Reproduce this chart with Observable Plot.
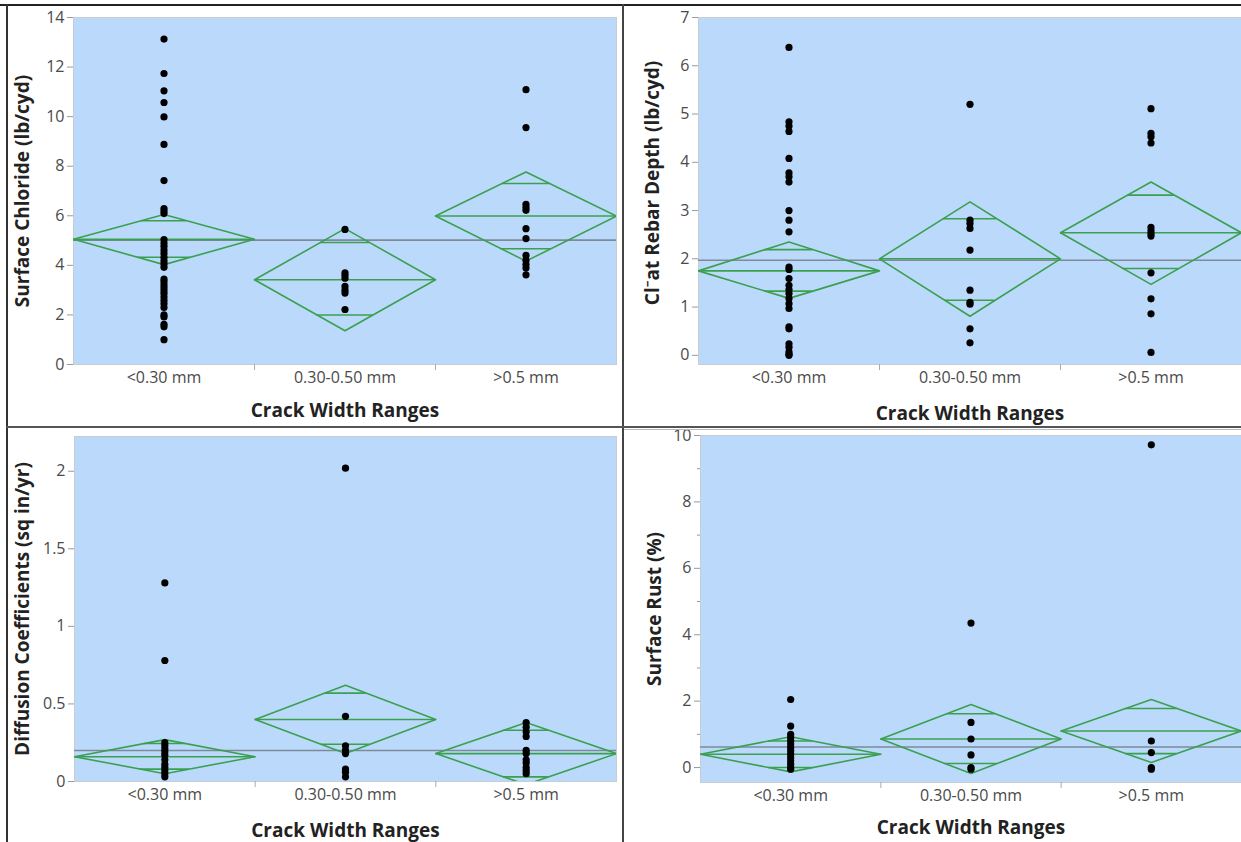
<!DOCTYPE html>
<html>
<head>
<meta charset="utf-8">
<script src="https://cdn.jsdelivr.net/npm/d3@7"></script>
<script src="https://cdn.jsdelivr.net/npm/@observablehq/plot@0.6"></script>
<style>
  html, body { margin: 0; padding: 0; background: #fff; }
  #wrap { position: relative; width: 1241px; height: 842px; overflow: hidden; background: #fff; }
  .panel { position: absolute; }
  .line { position: absolute; }
</style>
</head>
<body>
<div id="wrap"></div>
<script>
// ---------- data ----------
const categories = ["<0.30 mm", "0.30-0.50 mm", ">0.5 mm"];
const xTitle = "Crack Width Ranges";

// Panel 1: Surface Chloride (lb/cyd)
const chlorideLabel = "Surface Chloride (lb/cyd)";
const chlorideLt030 = [13.13, 11.74, 11.04, 10.57, 9.99, 8.88, 7.42, 6.29, 6.19, 6.09, 5.04, 4.9, 4.77, 4.62, 4.48, 4.33, 4.18, 4.05, 3.92, 3.45, 3.35, 3.22, 3.1, 2.98, 2.86, 2.72, 2.58, 2.45, 2.3, 2.0, 1.92, 1.62, 1.52, 1.0];
const chloride030050 = [5.45, 3.7, 3.6, 3.48, 3.15, 3.0, 2.88, 2.22];
const chlorideGt05 = [11.09, 9.56, 6.46, 6.33, 6.22, 5.48, 5.08, 4.4, 4.2, 4.03, 3.89, 3.62];
const chlorideMean = [5.05, 3.42, 5.99];
const chlorideLow = [4.03, 1.36, 4.17];
const chlorideHigh = [6.05, 5.48, 7.77];
const chlorideOverlapLow = [4.33, 2.0, 4.67];
const chlorideOverlapHigh = [5.8, 4.92, 7.3];
const chlorideGrand = 5.02;

// Panel 2: Cl- at Rebar Depth (lb/cyd)
const rebarLabel = "Cl\u207Bat Rebar Depth (lb/cyd)";
const rebarLt030 = [6.38, 4.84, 4.75, 4.64, 4.08, 3.78, 3.7, 3.59, 3.0, 2.8, 2.56, 1.83, 1.78, 1.59, 1.45, 1.36, 1.28, 1.18, 1.07, 0.97, 0.59, 0.55, 0.24, 0.17, 0.07, 0.02, 0.0];
const rebar030050 = [5.2, 2.8, 2.73, 2.63, 2.18, 1.35, 1.1, 1.06, 0.55, 0.26];
const rebarGt05 = [5.11, 4.6, 4.53, 4.4, 2.65, 2.58, 2.52, 2.47, 1.71, 1.17, 0.86, 0.06];
const rebarMean = [1.75, 2.0, 2.54];
const rebarLow = [1.18, 0.81, 1.47];
const rebarHigh = [2.35, 3.18, 3.59];
const rebarOverlapLow = [1.33, 1.14, 1.8];
const rebarOverlapHigh = [2.19, 2.83, 3.32];
const rebarGrand = 1.97;

// Panel 3: Diffusion Coefficients (sq in/yr)
const diffLabel = "Diffusion Coefficients (sq in/yr)";
const diffLt030 = [1.28, 0.78, 0.25, 0.23, 0.21, 0.19, 0.17, 0.14, 0.11, 0.09, 0.07, 0.05, 0.03];
const diff030050 = [2.02, 0.42, 0.23, 0.2, 0.18, 0.08, 0.06, 0.03];
const diffGt05 = [0.38, 0.35, 0.32, 0.29, 0.2, 0.18, 0.14, 0.12, 0.09, 0.07, 0.05];
const diffMean = [0.16, 0.4, 0.18];
const diffLow = [0.05, 0.18, -0.02];
const diffHigh = [0.27, 0.62, 0.38];
const diffOverlapLow = [0.08, 0.24, 0.03];
const diffOverlapHigh = [0.245, 0.57, 0.33];
const diffGrand = 0.2;

// Panel 4: Surface Rust (%)
const rustLabel = "Surface Rust (%)";
const rustLt030 = [2.05, 1.25, 1.0, 0.91, 0.81, 0.71, 0.6, 0.5, 0.4, 0.3, 0.2, 0.1, 0.0, -0.05];
const rust030050 = [4.35, 1.36, 0.86, 0.38, 0.0, -0.05];
const rustGt05 = [9.72, 0.8, 0.45, 0.0, -0.05];
const rustMean = [0.4, 0.86, 1.1];
const rustLow = [-0.13, -0.18, 0.15];
const rustHigh = [0.93, 1.9, 2.05];
const rustOverlapLow = [0.0, 0.12, 0.42];
const rustOverlapHigh = [0.8, 1.62, 1.78];
const rustGrand = 0.62;

// ---------- styling ----------
const BG = "#bbdafb";
const GREEN = "#3aa050";
const FONT = "'Open Sans', 'Noto Sans', sans-serif";
const TICK_FS = 16;
const TITLE_FS = 19;

function panel(cfg) {
  const groups = cfg.values;
  const pts = groups.flatMap((vals, i) => vals.map(v => ({i, v})));
  const stats = categories.map((c, i) => ({
    i, mean: cfg.mean[i], lo: cfg.low[i], hi: cfg.high[i],
    olo: cfg.overlapLow[i], ohi: cfg.overlapHigh[i]
  }));
  const diamond = stats.flatMap(s => [
    {i: s.i, x: s.i - 0.5, y: s.mean},
    {i: s.i, x: s.i, y: s.hi},
    {i: s.i, x: s.i + 0.5, y: s.mean},
    {i: s.i, x: s.i, y: s.lo},
    {i: s.i, x: s.i - 0.5, y: s.mean}
  ]);
  const overlaps = stats.flatMap(s => [
    {i: s.i, y: s.ohi, hw: 0.5 * (1 - (s.ohi - s.mean) / (s.hi - s.mean))},
    {i: s.i, y: s.olo, hw: 0.5 * (1 - (s.mean - s.olo) / (s.mean - s.lo))}
  ]);
  const m = cfg.margin;
  const marks = [
    Plot.frame({fill: BG, stroke: "#c9ccd0"}),
    Plot.ruleY([cfg.grand], {stroke: "#7d8a9a", strokeWidth: 1.6}),
    Plot.line(diamond, {x: "x", y: "y", z: "i", stroke: GREEN, strokeWidth: 1.6, clip: true}),
    Plot.ruleY(stats, {y: "mean", x1: d => d.i - 0.5, x2: d => d.i + 0.5, stroke: GREEN, strokeWidth: 1.6, clip: true}),
    Plot.ruleY(overlaps, {y: "y", x1: d => d.i - d.hw, x2: d => d.i + d.hw, stroke: GREEN, strokeWidth: 1.6, clip: true}),
    Plot.dot(pts, {x: "i", y: "v", r: 3.6, fill: "#000", stroke: null}),
    Plot.axisY(cfg.yTicks, {tickSize: 6, tickPadding: 3, fontSize: TICK_FS, fill: "#4a4a4a", stroke: "#999", tickFormat: d => String(d), label: null}),
    Plot.axisX([0, 1, 2], {tickSize: 0, tickPadding: 7, fontSize: TICK_FS, fill: "#4a4a4a", tickFormat: i => categories[i], label: null}),
    Plot.axisX([0.5, 1.5], {tickSize: 6, stroke: "#aaa", tickFormat: () => "", label: null}),
    Plot.text([cfg.yLabel], {text: d => d, frameAnchor: "left", textAnchor: "middle", lineAnchor: "middle", dx: -cfg.yLabelDx, dy: cfg.yLabelDy || 0, rotate: -90, fontSize: TITLE_FS, fontWeight: "bold", fill: "#222"}),
    Plot.text([xTitle], {text: d => d, frameAnchor: "bottom", textAnchor: "middle", lineAnchor: "middle", dy: cfg.xLabelDy, fontSize: TITLE_FS, fontWeight: "bold", fill: "#222"})
  ];
  if (cfg.minor) marks.push(Plot.axisY(cfg.minor, {tickSize: 3, stroke: "#999", tickFormat: () => "", label: null}));
  const svg = Plot.plot({
    width: cfg.width, height: cfg.height,
    marginLeft: m[3], marginRight: m[1], marginTop: m[0], marginBottom: m[2],
    style: {fontFamily: FONT, background: "transparent", overflow: "visible"},
    x: {type: "linear", domain: [-0.5, 2.5], axis: null},
    y: {domain: cfg.yDomain, axis: null},
    marks
  });
  svg.classList.add("panel");
  svg.style.left = cfg.left + "px";
  svg.style.top = cfg.top + "px";
  return svg;
}

const wrap = document.getElementById("wrap");

wrap.appendChild(panel({
  left: 0, top: 0, width: 622, height: 427, margin: [17, 6, 63, 73],
  values: [chlorideLt030, chloride030050, chlorideGt05],
  mean: chlorideMean, low: chlorideLow, high: chlorideHigh,
  overlapLow: chlorideOverlapLow, overlapHigh: chlorideOverlapHigh, grand: chlorideGrand,
  yDomain: [0, 14], yTicks: [0, 2, 4, 6, 8, 10, 12, 14],
  yLabel: chlorideLabel, yLabelDx: 51, xLabelDy: 46
}));
wrap.appendChild(panel({
  left: 625, top: 0, width: 616, height: 427, margin: [17, 0, 63, 73],
  values: [rebarLt030, rebar030050, rebarGt05],
  mean: rebarMean, low: rebarLow, high: rebarHigh,
  overlapLow: rebarOverlapLow, overlapHigh: rebarOverlapHigh, grand: rebarGrand,
  yDomain: [-0.19, 7.0], yTicks: [0, 1, 2, 3, 4, 5, 6, 7],
  yLabel: rebarLabel, yLabelDx: 46, yLabelDy: -8, xLabelDy: 49
}));
wrap.appendChild(panel({
  left: 0, top: 431, width: 622, height: 411, margin: [5, 6, 61, 74],
  values: [diffLt030, diff030050, diffGt05],
  mean: diffMean, low: diffLow, high: diffHigh,
  overlapLow: diffOverlapLow, overlapHigh: diffOverlapHigh, grand: diffGrand,
  yDomain: [0, 2.224], yTicks: [0, 0.5, 1, 1.5, 2],
  yLabel: diffLabel, yLabelDx: 52, xLabelDy: 49
}));
wrap.appendChild(panel({
  left: 625, top: 431, width: 616, height: 411, margin: [4, 0, 60, 75],
  values: [rustLt030, rust030050, rustGt05],
  mean: rustMean, low: rustLow, high: rustHigh,
  overlapLow: rustOverlapLow, overlapHigh: rustOverlapHigh, grand: rustGrand,
  yDomain: [-0.45, 10.0], yTicks: [0, 2, 4, 6, 8, 10], minor: [1, 3, 5, 7, 9],
  yLabel: rustLabel, yLabelDx: 46, xLabelDy: 45
}));

// frame lines around / between the four reports
function line(l, t, w, h, c) {
  const d = document.createElement("div");
  d.className = "line";
  Object.assign(d.style, {left: l + "px", top: t + "px", width: w + "px", height: h + "px", background: c});
  wrap.appendChild(d);
}
line(0, 4, 1241, 2, "#222");
line(6, 4, 2, 838, "#333");
line(622, 4, 2, 838, "#444");
line(6, 426, 1235, 2, "#555");
line(624, 429, 617, 1, "#bbb");
</script>
</body>
</html>
